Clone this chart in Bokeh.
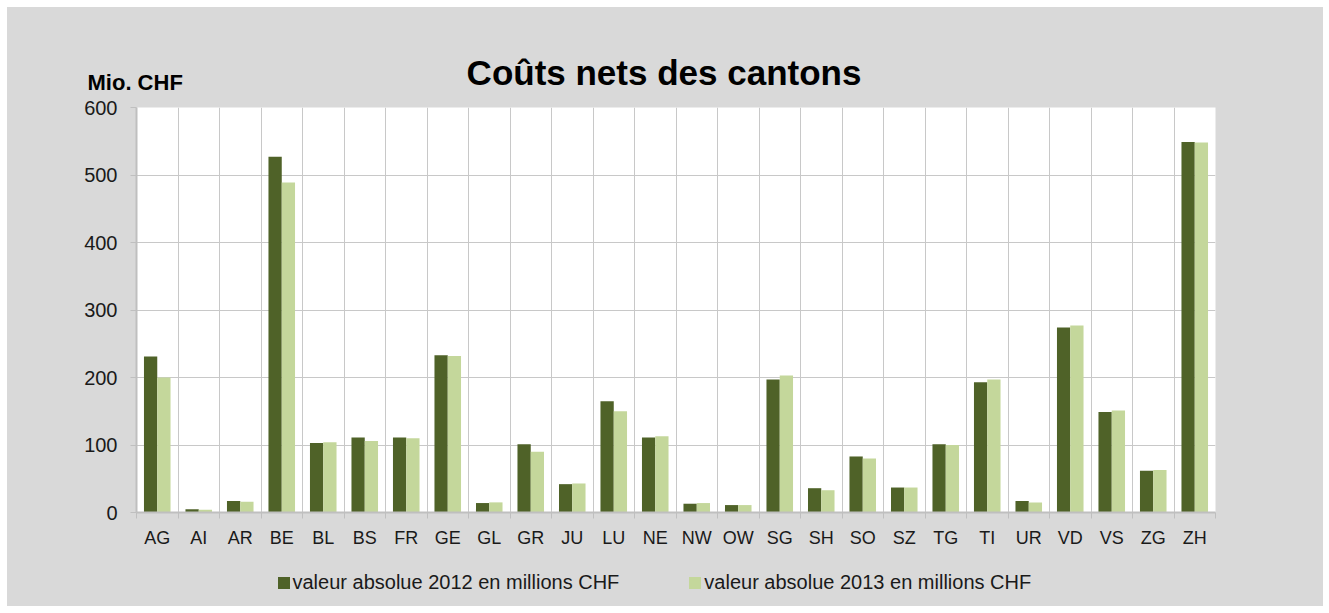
from bokeh.plotting import figure
from bokeh.layouts import column
from bokeh.models import (Range1d, FixedTicker, Legend, LegendItem, ColumnDataSource, Label)
from bokeh.embed import file_html
from bokeh.resources import INLINE

categories = ["AG", "AI", "AR", "BE", "BL", "BS", "FR", "GE", "GL", "GR", "JU", "LU", "NE",
              "NW", "OW", "SG", "SH", "SO", "SZ", "TG", "TI", "UR", "VD", "VS", "ZG", "ZH"]
v2012 = [231, 5, 17, 527, 103, 111, 111, 233, 14, 101, 42, 165, 111,
         13, 11, 197, 36, 83, 37, 101, 193, 17, 274, 149, 62, 549]
v2013 = [200, 4, 16, 489, 104, 106, 110, 232, 15, 90, 43, 150, 113,
         14, 11, 203, 33, 80, 37, 100, 197, 15, 277, 151, 63, 548]
y_ticks = [0, 100, 200, 300, 400, 500, 600]
series_labels = ["valeur absolue 2012 en millions CHF", "valeur absolue 2013 en millions CHF"]
title_text = "Coûts nets des cantons"
unit_text = "Mio. CHF"

C2012 = "#4F6228"
C2013 = "#C4D79B"
BG = "#D9D9D9"
GRID = "#C8C8C8"
AXIS = "#BFBFBF"
FONT = "Liberation Sans"

W = 1316
MAIN_H = 550
FOOT_H = 49

n = len(categories)
bw = 0.32
centers = [i + 0.5 for i in range(n)]
src = ColumnDataSource(dict(
    x1=[c - bw / 2 for c in centers],
    x2=[c + bw / 2 for c in centers],
    v2012=v2012, v2013=v2013,
))

# ---------- main chart ----------
p = figure(width=W, height=MAIN_H, output_backend="svg", toolbar_location=None,
           x_range=Range1d(0, n), y_range=Range1d(y_ticks[0], y_ticks[-1]),
           min_border_left=129, min_border_right=108, min_border_top=100,
           min_border_bottom=45)
p.border_fill_color = BG
p.background_fill_color = "white"
p.outline_line_color = None
p.styles = {"background-color": BG}

p.vbar(x="x1", top="v2012", width=bw, bottom=0, source=src,
       fill_color=C2012, line_color=None)
p.vbar(x="x2", top="v2013", width=bw, bottom=0, source=src,
       fill_color=C2013, line_color=None)

xa = p.xaxis[0]
xa.ticker = FixedTicker(ticks=centers, minor_ticks=list(range(n + 1)))
xa.major_label_overrides = {c: cat for c, cat in zip(centers, categories)}
xa.major_tick_out = 0
xa.major_tick_in = 0
xa.minor_tick_out = 6
xa.minor_tick_in = 0
xa.minor_tick_line_color = AXIS
xa.axis_line_color = AXIS
xa.axis_line_width = 2
xa.major_label_text_font = FONT
xa.major_label_text_font_size = "18px"
xa.major_label_text_color = "#1a1a1a"
xa.major_label_standoff = 9

ya = p.yaxis[0]
ya.ticker = FixedTicker(ticks=y_ticks)
ya.major_tick_out = 6
ya.major_tick_in = 0
ya.minor_tick_out = 0
ya.minor_tick_in = 0
ya.major_tick_line_color = AXIS
ya.axis_line_color = AXIS
ya.axis_line_width = 2
ya.major_label_text_font = FONT
ya.major_label_text_font_size = "20px"
ya.major_label_text_color = "#1a1a1a"
ya.major_label_standoff = 13

p.xgrid.ticker = FixedTicker(ticks=list(range(n + 1)))
p.xgrid.grid_line_color = GRID
p.ygrid.grid_line_color = GRID

p.add_layout(Label(x=656.5, y=65, x_units="canvas", y_units="canvas", text=title_text,
                   text_align="center", text_baseline="alphabetic", text_font=FONT,
                   text_font_style="bold", text_font_size="35px", text_color="black"), "above")
p.add_layout(Label(x=80, y=75, x_units="canvas", y_units="canvas", text=unit_text,
                   text_align="left", text_baseline="alphabetic", text_font=FONT,
                   text_font_style="bold", text_font_size="22px", text_color="black"), "above")

# ---------- footer with the legend ----------
foot = figure(width=W, height=FOOT_H, output_backend="svg", toolbar_location=None,
              x_range=Range1d(0, n), y_range=Range1d(0, FOOT_H),
              x_axis_type=None, y_axis_type=None,
              min_border_left=129, min_border_right=108, min_border_top=0, min_border_bottom=0)
foot.border_fill_color = BG
foot.background_fill_color = BG
foot.outline_line_color = None
foot.grid.visible = False
foot.styles = {"background-color": BG}
k1 = foot.vbar(x="x1", top="v2012", width=bw, bottom=0, source=src,
               fill_color=C2012, line_color=None, visible=False)
k2 = foot.vbar(x="x2", top="v2013", width=bw, bottom=0, source=src,
               fill_color=C2013, line_color=None, visible=False)
legend = Legend(items=[LegendItem(label=series_labels[0], renderers=[k1]),
                       LegendItem(label=series_labels[1], renderers=[k2])],
                location=(139.5, 12), orientation="horizontal",
                glyph_width=15, glyph_height=15, label_standoff=2, spacing=68,
                padding=0, margin=0,
                label_text_font=FONT, label_text_font_size="20px", label_text_color="#1a1a1a",
                background_fill_alpha=0, border_line_color=None)
foot.add_layout(legend)

layout = column(p, foot, spacing=0)
layout.margin = (7, 0, 0, 7)
layout.styles = {"background-color": BG}
open("out.html", "w").write(file_html(layout, INLINE))
